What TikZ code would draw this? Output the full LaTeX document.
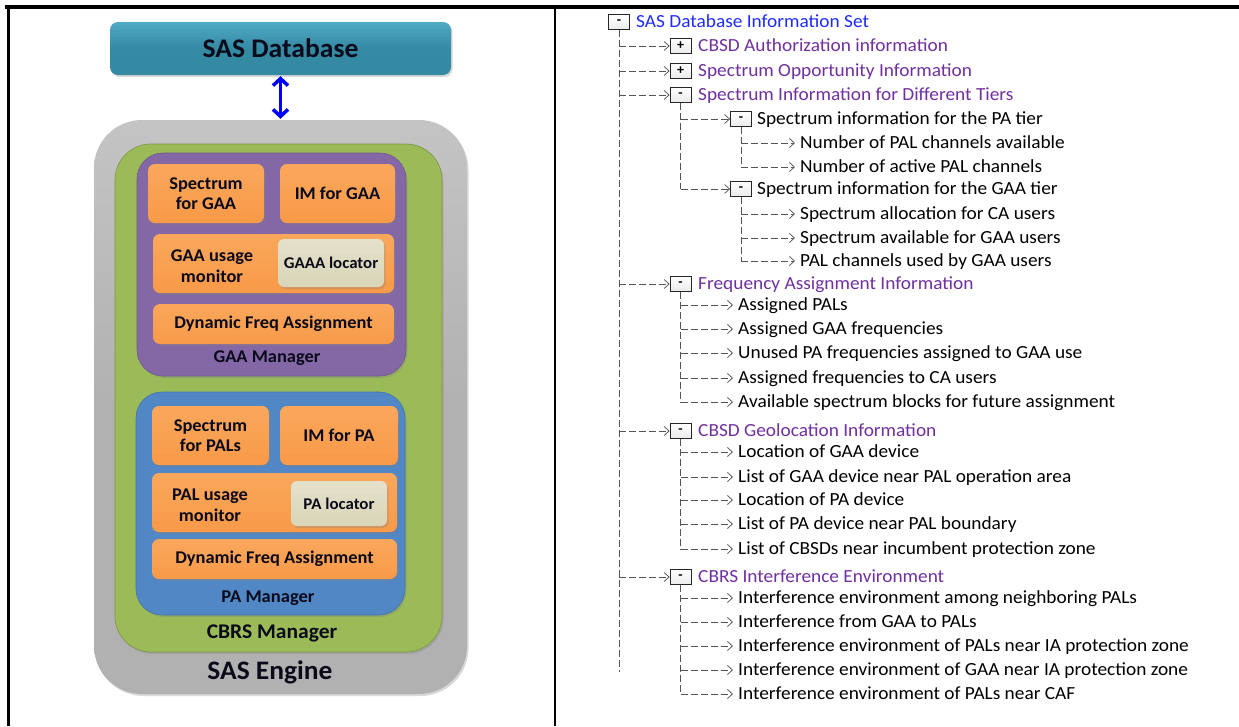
\documentclass[tikz,border=0pt]{standalone}
\usepackage{fontspec}
\setmainfont{Carlito}
\newfontfamily\diagfont[FakeStretch=1.03]{Carlito}
\newfontfamily\treefont[FakeStretch=1.045]{Carlito}
\usetikzlibrary{arrows.meta,shadows}

\definecolor{dbteal}{HTML}{3489A3}
\definecolor{dbtealtop}{HTML}{4FAAC4}
\definecolor{enggray}{HTML}{B1B1B1}
\definecolor{enggraytop}{HTML}{C4C4C4}
\definecolor{cbrsgreen}{HTML}{9BBB59}
\definecolor{gaapurple}{HTML}{8468A6}
\definecolor{pablue}{HTML}{5287C6}
\definecolor{modorange}{HTML}{F89A48}
\definecolor{modorangetop}{HTML}{FAA75C}
\definecolor{loctan}{HTML}{D9D5B8}
\definecolor{loctantop}{HTML}{E4E1CB}
\definecolor{treepurple}{HTML}{7030A0}
\definecolor{treeblue}{HTML}{1F2BFF}
\definecolor{treeline}{HTML}{555555}
\definecolor{labelink}{HTML}{0A0A1A}

\tikzset{
  softshadow/.style={drop shadow={shadow xshift=1.5pt, shadow yshift=-2pt, opacity=0.3}},
  panel/.style={inner sep=0pt, draw=none, softshadow, text=labelink},
  dbbox/.style={panel, rounded corners=8pt, top color=dbtealtop, bottom color=dbteal, middle color=dbteal,
    font=\diagfont\bfseries\fontsize{26.8}{28}\selectfont},
  engbox/.style={panel, rounded corners=48pt, top color=enggraytop, bottom color=enggray, middle color=enggray},
  cbrsbox/.style={panel, rounded corners=36pt, fill=cbrsgreen, draw=cbrsgreen!80!black, line width=0.6pt},
  mgrbox/.style={panel, rounded corners=26pt, fill=#1, draw=#1!85!black, line width=0.6pt},
  modbox/.style={panel, rounded corners=7pt, top color=modorangetop, bottom color=modorange,
    align=center, font=\diagfont\bfseries\fontsize{17.9}{20.5}\selectfont},
  locbox/.style={panel, rounded corners=6pt, top color=loctantop, bottom color=loctan,
    font=\diagfont\bfseries\fontsize{16.4}{17}\selectfont},
  boldlabel/.style={inner sep=0pt, text=labelink, font=\diagfont\bfseries\fontsize{#1}{#1}\selectfont},
  twoline/.style={align=center, inner sep=0pt, text=labelink, font=\diagfont\bfseries\fontsize{17.9}{21}\selectfont},
  dbarrow/.style={draw=blue, line width=3.5pt,
    {Straight Barb[length=7pt,width=15pt]}-{Straight Barb[length=7pt,width=15pt]}},
  % tree view on the right
  tbox/.style={draw=black!85, line width=0.75pt, top color=white, bottom color=black!8,
    minimum width=21pt, minimum height=15pt, inner sep=0pt,
    font=\bfseries\fontsize{14}{14}\selectfont},
  ttext/.style={anchor=west, inner xsep=0pt, inner ysep=0pt, text height=13.9pt, text depth=2pt,
    font=\treefont\fontsize{18.5}{19}\selectfont},
  leaf/.style={ttext, inner xsep=5pt},
  tline/.style={draw=treeline, line width=0.75pt, dash pattern=on 7pt off 3pt},
  tarrow/.style={tline, -{Straight Barb[length=5pt,width=9pt]}},
  rule/.style={draw=black, line width=#1}
}

\begin{document}
\begin{tikzpicture}[x=1pt,y=-1pt]
\useasboundingbox (0,0) rectangle (1239,726);
\fill[white] (0,0) rectangle (1239,726);

% frame rules
\coordinate (topL) at (5,7);
\coordinate (topR) at (1239,7);
\coordinate (leftT) at (8.3,5);
\coordinate (leftB) at (8.3,726);
\coordinate (midT) at (555.2,7);
\coordinate (midB) at (555.2,726);
\draw[rule=4pt] (topL) -- (topR);
\draw[rule=3.3pt] (leftT) -- (leftB);
\draw[rule=2.2pt] (midT) -- (midB);

% ---------- SAS architecture (left) ----------
\node[dbbox, minimum width=341pt, minimum height=53pt] (db) at (280.5,48.5) {SAS Database};

\node[engbox, minimum width=373pt, minimum height=574pt] (engine) at (280.5,407) {};
\node[boldlabel=26.7] (englabel) at (270,672) {SAS Engine};

\node[cbrsbox, minimum width=327pt, minimum height=508pt] (cbrs) at (278.5,398) {};
\node[boldlabel=20.9] (cbrslabel) at (272,633) {CBRS Manager};

% GAA manager
\node[mgrbox=gaapurple, minimum width=269pt, minimum height=223pt] (gaa) at (271.5,264.5) {};
\node[boldlabel=17.9] (gaalabel) at (267,358) {GAA Manager};
\node[modbox, minimum width=116pt, minimum height=59pt] (specgaa) at (206,193.5) {Spectrum\\for GAA};
\node[modbox, minimum width=115pt, minimum height=59pt] (imgaa) at (337.5,193.5) {IM for GAA};
\node[modbox, minimum width=241pt, minimum height=59pt] (gaamon) at (273.5,263.5) {};
\node[twoline] (gaamontext) at (212,266) {GAA usage\\monitor};
\node[locbox, minimum width=106pt, minimum height=48pt] (gaaloc) at (331,263) {GAAA locator};
\node[modbox, minimum width=241pt, minimum height=40pt] (gaadfa) at (273.5,324) {Dynamic Freq Assignment};

% PA manager
\node[mgrbox=pablue, minimum width=269pt, minimum height=223pt] (pa) at (270.5,503.5) {};
\node[boldlabel=18] (palabel) at (268,598) {PA Manager};
\node[modbox, minimum width=117pt, minimum height=59pt] (specpa) at (210.5,435.5) {Spectrum\\for PALs};
\node[modbox, minimum width=118pt, minimum height=59pt] (impa) at (339,435.5) {IM for PA};
\node[modbox, minimum width=245pt, minimum height=59pt] (pamon) at (274.5,502.5) {};
\node[twoline] (pamontext) at (210,505) {PAL usage\\monitor};
\node[locbox, minimum width=96pt, minimum height=45pt] (paloc) at (339,503.5) {PA locator};
\node[modbox, minimum width=245pt, minimum height=40pt] (padfa) at (274.5,559) {Dynamic Freq Assignment};

% link between database and engine
\draw[dbarrow, shorten <=1pt, shorten >=1pt] (db.south) -- (engine.north);

% ---------- information set tree (right) ----------
\node[tbox] (r) at (619,22) {-};
\node[ttext, text=treeblue] (rt) at (636,22) {SAS Database Information Set};
\coordinate (rend) at (619,672);

% first level
\node[tbox] (b1) at (680.5,46) {+};
\node[ttext, text=treepurple] (t1) at (698,46) {CBSD Authorization information};
\node[tbox] (b2) at (680.5,71) {+};
\node[ttext, text=treepurple] (t2) at (698,71) {Spectrum Opportunity Information};
\node[tbox] (b3) at (680.5,95) {-};
\node[ttext, text=treepurple] (t3) at (698,95) {Spectrum Information for Different Tiers};
\node[tbox] (b4) at (680.5,284) {-};
\node[ttext, text=treepurple] (t4) at (698,284) {Frequency Assignment Information};
\node[tbox] (b5) at (680.5,431) {-};
\node[ttext, text=treepurple] (t5) at (698,431) {CBSD Geolocation Information};
\node[tbox] (b6) at (680.5,577) {-};
\node[ttext, text=treepurple] (t6) at (698,577) {CBRS Interference Environment};

% tiers
\node[tbox] (c1) at (741,119) {-};
\node[ttext] (u1) at (757,119) {Spectrum information for the PA tier};
\node[leaf] (p1) at (795,143) {Number of PAL channels available};
\node[leaf] (p2) at (795,167) {Number of active PAL channels};
\node[tbox] (c2) at (741,189) {-};
\node[ttext] (u2) at (757,189) {Spectrum information for the GAA tier};
\node[leaf] (g1) at (795,214) {Spectrum allocation for CA users};
\node[leaf] (g2) at (795,238) {Spectrum available for GAA users};
\node[leaf] (g3) at (795,261) {PAL channels used by GAA users};

% frequency assignment
\node[leaf] (f1) at (733,305) {Assigned PALs};
\node[leaf] (f2) at (733,329) {Assigned GAA frequencies};
\node[leaf] (f3) at (733,353) {Unused PA frequencies assigned to GAA use};
\node[leaf] (f4) at (733,378) {Assigned frequencies to CA users};
\node[leaf] (f5) at (733,402) {Available spectrum blocks for future assignment};

% geolocation
\node[leaf] (l1) at (733,452) {Location of GAA device};
\node[leaf] (l2) at (733,477) {List of GAA device near PAL operation area};
\node[leaf] (l3) at (733,500) {Location of PA device};
\node[leaf] (l4) at (733,524) {List of PA device near PAL boundary};
\node[leaf] (l5) at (733,549) {List of CBSDs near incumbent protection zone};

% interference
\node[leaf] (i1) at (733,598) {Interference environment among neighboring PALs};
\node[leaf] (i2) at (733,622) {Interference from GAA to PALs};
\node[leaf] (i3) at (733,646) {Interference environment of PALs near IA protection zone};
\node[leaf] (i4) at (733,670) {Interference environment of GAA near IA protection zone};
\node[leaf] (i5) at (733,694) {Interference environment of PALs near CAF};

% tree connectors
\draw[tline] (r.south) -- (rend);
\foreach \b in {b1,b2,b3,b4,b5,b6}
  \draw[tarrow] (r.south |- \b) -- (\b.west);

\draw[tline] (b3.south) -- (b3.south |- c2);
\foreach \c in {c1,c2}
  \draw[tarrow] (b3.south |- \c) -- (\c.west);

\draw[tline] (c1.south) -- (c1.south |- p2);
\foreach \n in {p1,p2}
  \draw[tarrow] (c1.south |- \n) -- (\n.west);

\draw[tline] (c2.south) -- (c2.south |- g3);
\foreach \n in {g1,g2,g3}
  \draw[tarrow] (c2.south |- \n) -- (\n.west);

\draw[tline] (b4.south) -- (b4.south |- f5);
\foreach \n in {f1,f2,f3,f4,f5}
  \draw[tarrow] (b4.south |- \n) -- (\n.west);

\draw[tline] (b5.south) -- (b5.south |- l5);
\foreach \n in {l1,l2,l3,l4,l5}
  \draw[tarrow] (b5.south |- \n) -- (\n.west);

\draw[tline] (b6.south) -- (b6.south |- i5);
\foreach \n in {i1,i2,i3,i4,i5}
  \draw[tarrow] (b6.south |- \n) -- (\n.west);
\end{tikzpicture}
\end{document}
